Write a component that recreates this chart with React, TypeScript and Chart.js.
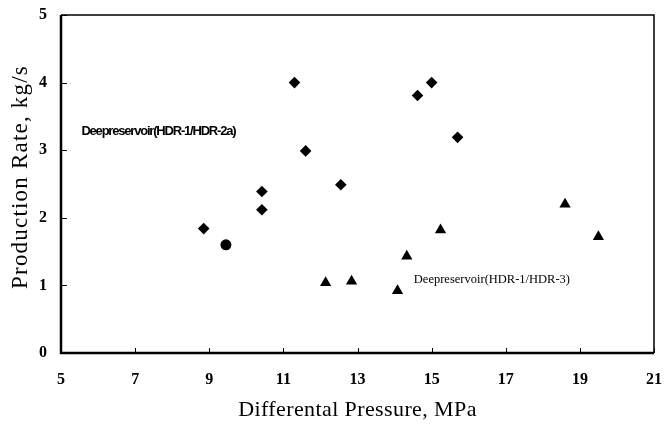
import React, { useEffect, useRef } from "react";
import { Chart, registerables } from "chart.js";

Chart.register(...registerables);

// HDR-1/HDR-2a (diamonds)
const hdr2aX = [8.85, 10.42, 10.42, 11.3, 11.6, 12.55, 14.62, 15.0, 15.7];
const hdr2aY = [1.84, 2.39, 2.12, 4.0, 2.99, 2.49, 3.81, 4.0, 3.19];
// single round point
const circleX = [9.45];
const circleY = [1.6];
// HDR-1/HDR-3 (triangles)
const hdr3X = [12.14, 12.84, 14.08, 14.33, 15.24, 18.6, 19.5];
const hdr3Y = [1.04, 1.06, 0.92, 1.43, 1.82, 2.2, 1.72];

const xTicks = [5, 7, 9, 11, 13, 15, 17, 19, 21];
const yTicks = [0, 1, 2, 3, 4, 5];

const xTitle = "Differental Pressure, MPa";
const yTitle = "Production Rate, kg/s";

const noteTexts = ["Deepreservoir(HDR-1/HDR-2a)", "Deepreservoir(HDR-1/HDR-3)"];
const noteX = [5.55, 14.52];
const noteY = [3.28, 1.08];
const noteFonts = [
  "bold 13px 'Liberation Sans', Arial, sans-serif",
  "12.5px 'Liberation Serif', 'Times New Roman', serif",
];
const noteSpacing = ["-1.2px", "0px"];

const toPts = (xs: number[], ys: number[]) => xs.map((x, i) => ({ x, y: ys[i] }));

const framePlugin = {
  id: "frame",
  afterDraw(chart: any) {
    const { ctx, chartArea } = chart;
    const xs = chart.scales.x;
    const ys = chart.scales.y;
    ctx.save();
    ctx.strokeStyle = "#000";
    // box
    ctx.lineWidth = 1.5;
    ctx.beginPath();
    ctx.moveTo(chartArea.left, chartArea.top);
    ctx.lineTo(chartArea.right, chartArea.top);
    ctx.lineTo(chartArea.right, chartArea.bottom);
    ctx.stroke();
    ctx.lineWidth = 2.5;
    ctx.beginPath();
    ctx.moveTo(chartArea.left, chartArea.top);
    ctx.lineTo(chartArea.left, chartArea.bottom);
    ctx.lineTo(chartArea.right, chartArea.bottom);
    ctx.stroke();
    // inward ticks
    ctx.lineWidth = 1;
    ctx.beginPath();
    xTicks.forEach((v) => {
      const px = Math.round(xs.getPixelForValue(v)) + 0.5;
      ctx.moveTo(px, chartArea.bottom);
      ctx.lineTo(px, chartArea.bottom - 5);
    });
    yTicks.forEach((v) => {
      const py = Math.round(ys.getPixelForValue(v)) + 0.5;
      ctx.moveTo(chartArea.left, py);
      ctx.lineTo(chartArea.left + 6, py);
    });
    ctx.stroke();
    // notes
    ctx.fillStyle = "#000";
    ctx.textBaseline = "middle";
    ctx.textAlign = "left";
    noteTexts.forEach((t, i) => {
      ctx.font = noteFonts[i];
      (ctx as any).letterSpacing = noteSpacing[i];
      ctx.fillText(t, xs.getPixelForValue(noteX[i]), ys.getPixelForValue(noteY[i]));
    });
    // axis titles
    ctx.font = "22px 'Liberation Serif', 'Times New Roman', serif";
    ctx.textAlign = "center";
    (ctx as any).letterSpacing = "0.4px";
    ctx.fillText(xTitle, (chartArea.left + chartArea.right) / 2, 410);
    ctx.save();
    ctx.font = "23px 'Liberation Serif', 'Times New Roman', serif";
    ctx.translate(21, (chartArea.top + chartArea.bottom) / 2 - 7);
    ctx.rotate(-Math.PI / 2);
    (ctx as any).letterSpacing = "1.2px";
    ctx.fillText(yTitle, 0, 0);
    ctx.restore();
    (ctx as any).letterSpacing = "0px";
    ctx.restore();
  },
};

export default function App() {
  const ref = useRef<HTMLCanvasElement | null>(null);
  useEffect(() => {
    if (!ref.current) return;
    const tickFont = { family: "'Liberation Serif', 'Times New Roman', serif", size: 16, weight: "bold" as const };
    const chart = new Chart(ref.current, {
      type: "scatter",
      data: {
        datasets: [
          {
            label: "HDR-1/HDR-2a",
            data: toPts(hdr2aX, hdr2aY),
            pointStyle: "rectRot",
            pointRadius: 5.8,
            backgroundColor: "#000",
            borderColor: "#000",
            borderWidth: 0,
          },
          {
            label: "circle",
            data: toPts(circleX, circleY),
            pointStyle: "circle",
            pointRadius: 5.5,
            backgroundColor: "#000",
            borderColor: "#000",
            borderWidth: 0,
          },
          {
            label: "HDR-1/HDR-3",
            data: toPts(hdr3X, hdr3Y),
            pointStyle: "triangle",
            pointRadius: 6.5,
            backgroundColor: "#000",
            borderColor: "#000",
            borderWidth: 0,
          },
        ],
      },
      options: {
        responsive: false,
        animation: false,
        events: [],
        layout: { padding: { top: 15, right: 11, left: 0, bottom: 0 } },
        plugins: { legend: { display: false }, tooltip: { enabled: false } },
        scales: {
          x: {
            type: "linear",
            min: 5,
            max: 21,
            afterBuildTicks: (s: any) => {
              s.ticks = xTicks.map((v) => ({ value: v }));
            },
            afterFit: (s: any) => {
              s.height = 77;
              s.paddingLeft = 0;
              s.paddingRight = 0;
            },
            grid: { display: false, drawTicks: false },
            border: { display: false },
            ticks: { color: "#000", font: tickFont, padding: 17, maxRotation: 0, autoSkip: false },
            title: { display: false },
          },
          y: {
            type: "linear",
            min: 0,
            max: 5,
            afterBuildTicks: (s: any) => {
              s.ticks = yTicks.map((v) => ({ value: v }));
            },
            afterFit: (s: any) => {
              s.width = 61;
              s.paddingTop = 0;
              s.paddingBottom = 0;
            },
            grid: { display: false, drawTicks: false },
            border: { display: false },
            ticks: { color: "#000", font: tickFont, padding: 14 },
            title: { display: false },
          },
        },
      },
      plugins: [framePlugin],
    });
    return () => chart.destroy();
  }, []);
  return (
    <div style={{ position: "fixed", left: 0, top: 0, width: 665, height: 430, background: "#fff" }}>
      <canvas ref={ref} width={665} height={430} />
    </div>
  );
}
